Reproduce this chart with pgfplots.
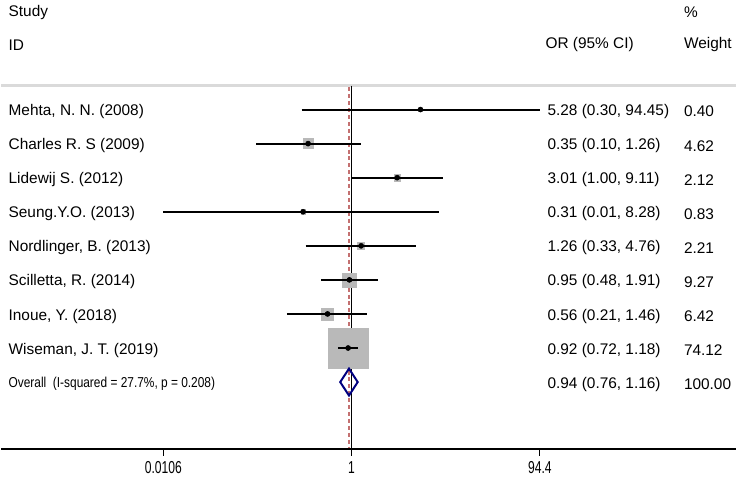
\documentclass[border=0pt]{standalone}
\usepackage{fontspec}
\setmainfont{Liberation Sans}
\usepackage{pgfplots}
\usepackage{pgfplotstable}
\pgfplotsset{compat=1.18}
\definecolor{boxgray}{RGB}{185,185,185}
\definecolor{refred}{RGB}{196,112,112}
\definecolor{dianavy}{RGB}{0,0,128}
\definecolor{rulegray}{RGB}{218,218,218}
\newcommand{\mf}{\fontsize{11.6}{13}\selectfont}

% row, OR, lower, upper, % weight
\pgfplotstableread{
row or   lo     hi    w
1   5.28 0.30   94.45 0.40
2   0.35 0.10   1.26  4.62
3   3.01 1.00   9.11  2.12
4   0.31 0.0106 8.28  0.83
5   1.26 0.33   4.76  2.21
6   0.95 0.48   1.91  9.27
7   0.56 0.21   1.46  6.42
8   0.92 0.72   1.18  74.12
}\studies

\tikzset{lbl/.style={anchor=west, inner sep=0, font=\mf, yshift=-1.6pt}}

\begin{document}
\begin{tikzpicture}
\begin{axis}[
  set layers=standard,
  scale only axis,
  width=552.75pt, height=338.25pt,
  xmode=log,
  xmin=2.124e-4, xmax=10671,
  ymin=-10.971, ymax=2.216,
  axis x line*=bottom,
  axis y line=none,
  axis line style={line width=1.4pt},
  xtick={0.0106,1,94.4},
  xticklabels={0.0106,1,94.4},
  minor xtick={},
  tick align=outside,
  major tick length=5pt,
  xtick style={black, line width=0.9pt},
  xticklabel style={font=\fontsize{13}{15}\selectfont, xscale=0.7, yshift=-0.6pt},
  clip=false,
]
% reference lines
\addplot[rulegray, line width=2.2pt, on layer=axis background] coordinates {(2.124e-4,-0.298) (10671,-0.298)};
\addplot[black, line width=1.1pt, on layer=axis background] coordinates {(1,-0.298) (1,-10.971)};
\addplot[refred, line width=1.1pt, dash pattern=on 3pt off 2.2pt, on layer=axis background] coordinates {(0.94,-0.35) (0.94,-10.971)};

% confidence intervals
\pgfplotsinvokeforeach{7,6,...,0}{
  \pgfplotstablegetelem{#1}{row}\of\studies \let\rr\pgfplotsretval
  \pgfplotstablegetelem{#1}{lo}\of\studies \let\lo\pgfplotsretval
  \pgfplotstablegetelem{#1}{hi}\of\studies \let\hi\pgfplotsretval
  \addplot[black, line width=1.5pt, line cap=butt, on layer=main] coordinates {(\lo,-\rr) (\hi,-\rr)};
}

% weight boxes
\addplot[scatter, only marks, mark=square*, on layer=pre main, mark layer=pre main,
  scatter/use mapped color={draw=boxgray, fill=boxgray},
  visualization depends on={15*sqrt(\thisrow{w}/74.12) \as \sz},
  scatter/@pre marker code/.append style={/tikz/mark size=\sz pt}]
  table[x=or, y expr=-\thisrow{row}] {\studies};

% point estimates
\addplot[only marks, mark=*, mark size=1.9pt, black, on layer=main, mark layer=main]
  table[x=or, y expr=-\thisrow{row}] {\studies};

% overall diamond
\addplot[dianavy, line width=1.5pt, on layer=main] coordinates {
  (0.76,-9) (0.94,-8.605) (1.16,-9) (0.94,-9.395) (0.76,-9)} -- cycle;

% header
\node[lbl] at (axis cs:2.51e-4,1.924) {Study};
\node[lbl] at (axis cs:2.51e-4,0.959) {ID};
\node[lbl] at (axis cs:107.7,0.959) {OR (95\% CI)};
\node[lbl] at (axis cs:3053,1.924) {\%};
\node[lbl] at (axis cs:3053,0.959) {Weight};

% study rows
\foreach \r/\name/\est/\wt in {
  1/{Mehta, N. N. (2008)}/{5.28 (0.30, 94.45)}/0.40,
  2/{Charles R. S (2009)}/{0.35 (0.10, 1.26)}/4.62,
  3/{Lidewij S. (2012)}/{3.01 (1.00, 9.11)}/2.12,
  4/{Seung.Y.O. (2013)}/{0.31 (0.01, 8.28)}/0.83,
  5/{Nordlinger, B. (2013)}/{1.26 (0.33, 4.76)}/2.21,
  6/{Scilletta, R. (2014)}/{0.95 (0.48, 1.91)}/9.27,
  7/{Inoue, Y. (2018)}/{0.56 (0.21, 1.46)}/6.42,
  8/{Wiseman, J. T. (2019)}/{0.92 (0.72, 1.18)}/74.12,
  9/{\scalebox{0.83}[1]{\fontsize{10.8}{12}\selectfont Overall\ \ (I-squared = 27.7\%, p = 0.208)}}/{0.94 (0.76, 1.16)}/100.00}{
  \edef\temp{\noexpand\node[lbl] at (axis cs:2.51e-4,-\r) {\unexpanded\expandafter{\name}};
    \noexpand\node[lbl] at (axis cs:113.1,-\r) {\unexpanded\expandafter{\est}};
    \noexpand\node[lbl] at (axis cs:3053,-\r) {\wt};}
  \temp
}

\path (rel axis cs:0,1) rectangle ([yshift=-21pt]rel axis cs:1,0);
\end{axis}
\end{tikzpicture}
\end{document}
